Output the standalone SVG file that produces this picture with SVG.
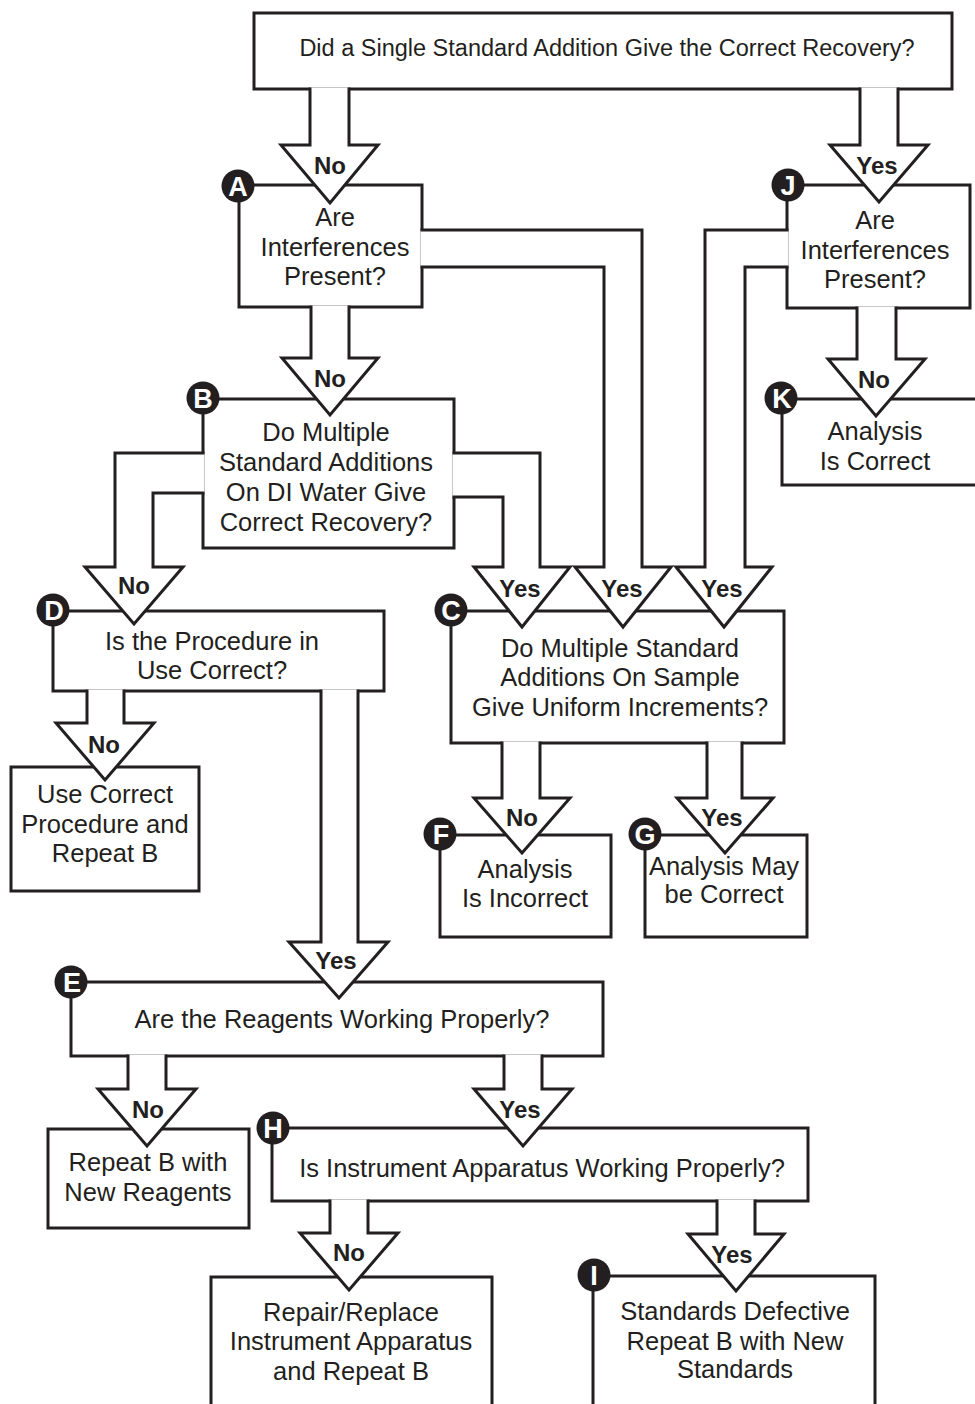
<svg xmlns="http://www.w3.org/2000/svg" width="975" height="1404" viewBox="0 0 975 1404">
<style>
.box{fill:#fff;stroke:#231f20;stroke-width:3}
.pipe{fill:#fff;stroke:#231f20;stroke-width:3;stroke-linejoin:miter}
.t{font-family:"Liberation Sans",Arial,Helvetica,sans-serif;font-size:25.5px;fill:#231f20;text-anchor:middle}
.top{font-size:23.5px}
.lbl{font-family:"Liberation Sans",Arial,Helvetica,sans-serif;font-size:24px;font-weight:bold;fill:#231f20;text-anchor:middle}
.dot{fill:#231f20}
.dl{font-family:"Liberation Sans",Arial,Helvetica,sans-serif;font-size:27px;font-weight:bold;fill:#fff;text-anchor:middle}
</style>
<rect width="975" height="1404" fill="#fff"/>
<g id="nodes">
<g id="q1">
<rect class="box" x="254" y="13" width="698" height="76"/>
<text class="t top" x="607" y="56">Did a Single Standard Addition Give the Correct Recovery?</text>
</g>
<g id="nodeA">
<rect class="box" x="239" y="185" width="183" height="122"/>
<text class="t" x="335"><tspan x="335" y="226">Are</tspan><tspan x="335" y="256">Interferences</tspan><tspan x="335" y="285">Present?</tspan></text>
<circle class="dot" cx="238" cy="186" r="16.5"/><text class="dl" x="238" y="195.5">A</text>
</g>
<g id="nodeJ">
<rect class="box" x="787" y="185" width="183" height="123"/>
<text class="t" x="875"><tspan x="875" y="229">Are</tspan><tspan x="875" y="259">Interferences</tspan><tspan x="875" y="288">Present?</tspan></text>
<circle class="dot" cx="788" cy="185" r="16.5"/><text class="dl" x="788" y="194.5">J</text>
</g>
<g id="nodeK">
<rect class="box" x="782" y="399" width="203" height="86"/>
<text class="t" x="875"><tspan x="875" y="440">Analysis</tspan><tspan x="875" y="470">Is Correct</tspan></text>
<circle class="dot" cx="781" cy="398" r="16.5"/><text class="dl" x="782" y="407.5">K</text>
</g>
<g id="nodeB">
<rect class="box" x="203" y="399" width="251" height="149"/>
<text class="t" x="326"><tspan x="326" y="441">Do Multiple</tspan><tspan x="326" y="471">Standard Additions</tspan><tspan x="326" y="501">On DI Water Give</tspan><tspan x="326" y="531">Correct Recovery?</tspan></text>
<circle class="dot" cx="203" cy="398" r="16.5"/><text class="dl" x="203" y="407.5">B</text>
</g>
<g id="nodeD">
<rect class="box" x="53" y="611" width="331" height="80"/>
<text class="t" x="212"><tspan x="212" y="650">Is the Procedure in</tspan><tspan x="212" y="679">Use Correct?</tspan></text>
<circle class="dot" cx="53" cy="610" r="16.5"/><text class="dl" x="54" y="619.5">D</text>
</g>
<g id="useCorrect">
<rect class="box" x="11" y="767" width="188" height="124"/>
<text class="t" x="105"><tspan x="105" y="803">Use Correct</tspan><tspan x="105" y="833">Procedure and</tspan><tspan x="105" y="862">Repeat B</tspan></text>
</g>
<g id="nodeC">
<rect class="box" x="451" y="611" width="333" height="132"/>
<text class="t" x="620"><tspan x="620" y="657">Do Multiple Standard</tspan><tspan x="620" y="686">Additions On Sample</tspan><tspan x="620" y="716">Give Uniform Increments?</tspan></text>
<circle class="dot" cx="451" cy="610" r="16.5"/><text class="dl" x="451" y="619.5">C</text>
</g>
<g id="nodeF">
<rect class="box" x="440" y="835" width="171" height="102"/>
<text class="t" x="525"><tspan x="525" y="878">Analysis</tspan><tspan x="525" y="907">Is Incorrect</tspan></text>
<circle class="dot" cx="440" cy="834" r="16.5"/><text class="dl" x="441" y="843.5">F</text>
</g>
<g id="nodeG">
<rect class="box" x="645" y="835" width="162" height="102"/>
<text class="t" x="724"><tspan x="724" y="875">Analysis May</tspan><tspan x="724" y="903">be Correct</tspan></text>
<circle class="dot" cx="645" cy="834" r="16.5"/><text class="dl" x="645" y="843.5">G</text>
</g>
<g id="nodeE">
<rect class="box" x="71" y="982" width="532" height="74"/>
<text class="t" x="342" y="1028">Are the Reagents Working Properly?</text>
<circle class="dot" cx="71" cy="982" r="16.5"/><text class="dl" x="72" y="991.5">E</text>
</g>
<g id="repeatReagents">
<rect class="box" x="48" y="1129" width="201" height="99"/>
<text class="t" x="148"><tspan x="148" y="1171">Repeat B with</tspan><tspan x="148" y="1201">New Reagents</tspan></text>
</g>
<g id="nodeH">
<rect class="box" x="272" y="1128" width="536" height="73"/>
<text class="t" x="542" y="1177">Is Instrument Apparatus Working Properly?</text>
<circle class="dot" cx="273" cy="1128" r="16.5"/><text class="dl" x="273" y="1137.5">H</text>
</g>
<g id="repair">
<rect class="box" x="211" y="1277" width="281" height="150"/>
<text class="t" x="351"><tspan x="351" y="1321">Repair/Replace</tspan><tspan x="351" y="1350">Instrument Apparatus</tspan><tspan x="351" y="1380">and Repeat B</tspan></text>
</g>
<g id="nodeI">
<rect class="box" x="593" y="1276" width="282" height="150"/>
<text class="t" x="735"><tspan x="735" y="1320">Standards Defective</tspan><tspan x="735" y="1350">Repeat B with New</tspan><tspan x="735" y="1378">Standards</tspan></text>
<circle class="dot" cx="594" cy="1275" r="16.5"/><text class="dl" x="594" y="1284.5">I</text>
</g>
</g>
<g id="connectors">
<path class="pipe" d="M310,87.5 V145 H281 L330,203 L378,145 H349 V87.5"/>
<path class="pipe" d="M860,87.5 V145 H830 L879,202 L928,145 H898 V87.5"/>
<path class="pipe" d="M311,305.5 V358 H282 L330,415 L378,358 H349 V305.5"/>
<path class="pipe" d="M420.5,230 H642 V567 H671 L623,627 L575,567 H604 V267 H420.5"/>
<path class="pipe" d="M857,306.5 V359 H828 L876,416 L925,359 H896 V306.5"/>
<path class="pipe" d="M788.5,230 H705 V567 H676 L724,627 L772,567 H745 V267 H788.5"/>
<path class="pipe" d="M204.5,453 H115 V567 H85 L134,624 L183,567 H153 V493 H204.5"/>
<path class="pipe" d="M452.5,453 H540 V567 H570 L522,627 L474,567 H503 V497 H452.5"/>
<path class="pipe" d="M87,689.5 V723 H56 L105,780 L154,723 H124 V689.5"/>
<path class="pipe" d="M321,689.5 V942 H289 L339,998 L388,942 H358 V689.5"/>
<path class="pipe" d="M502,741.5 V798 H474 L522,853 L570,798 H540 V741.5"/>
<path class="pipe" d="M707,741.5 V798 H677 L725,853 L773,798 H742 V741.5"/>
<path class="pipe" d="M128,1054.5 V1089 H98 L147,1146 L196,1089 H166 V1054.5"/>
<path class="pipe" d="M504,1054.5 V1089 H474 L523,1146 L572,1089 H542 V1054.5"/>
<path class="pipe" d="M330,1199.5 V1233 H300 L349,1290 L398,1233 H368 V1199.5"/>
<path class="pipe" d="M717,1199.5 V1234 H688 L736,1291 L784,1234 H755 V1199.5"/>
<text class="lbl" x="330" y="174">No</text>
<text class="lbl" x="877" y="174">Yes</text>
<text class="lbl" x="330" y="387">No</text>
<text class="lbl" x="622" y="597">Yes</text>
<text class="lbl" x="874" y="388">No</text>
<text class="lbl" x="722" y="597">Yes</text>
<text class="lbl" x="134" y="594">No</text>
<text class="lbl" x="520" y="597">Yes</text>
<text class="lbl" x="104" y="753">No</text>
<text class="lbl" x="336" y="969">Yes</text>
<text class="lbl" x="522" y="826">No</text>
<text class="lbl" x="722" y="826">Yes</text>
<text class="lbl" x="148" y="1118">No</text>
<text class="lbl" x="520" y="1118">Yes</text>
<text class="lbl" x="349" y="1261">No</text>
<text class="lbl" x="732" y="1263">Yes</text>
</g>
</svg>
